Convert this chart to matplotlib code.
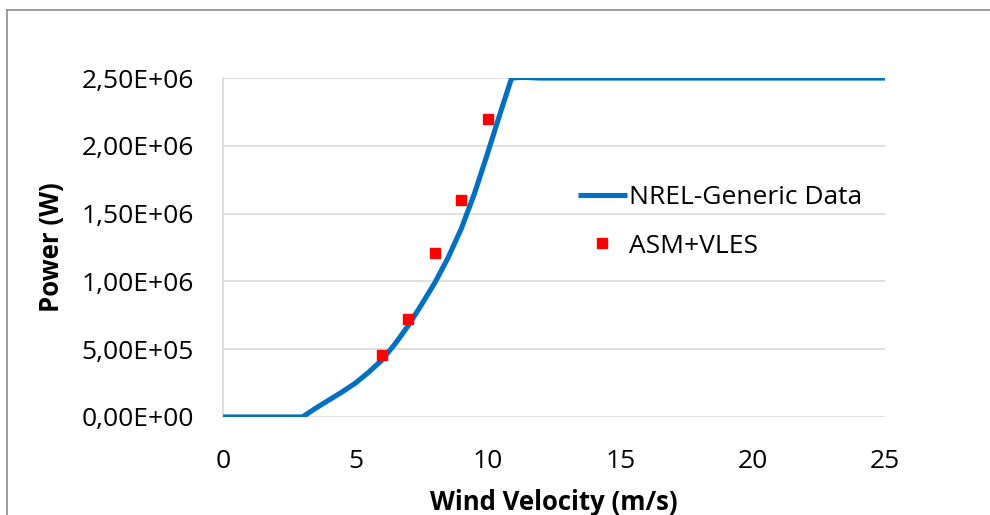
import numpy as np
import matplotlib
matplotlib.use('Agg')
import matplotlib.pyplot as plt
from matplotlib.ticker import FuncFormatter
from matplotlib.lines import Line2D

plt.rcParams['font.family'] = ['Open Sans', 'DejaVu Sans']

# NREL generic power curve
nrel_ws = [0, 3, 3.5, 4, 4.5, 5, 5.5, 6, 6.5, 7, 7.5, 8, 8.5, 9, 9.5, 10, 10.5, 10.9, 11.3, 12, 15, 20, 25]
nrel_power = [0, 0, 0.065e6, 0.125e6, 0.185e6, 0.25e6, 0.33e6, 0.42e6, 0.54e6, 0.675e6, 0.83e6, 0.99e6,
              1.175e6, 1.39e6, 1.65e6, 1.95e6, 2.26e6, 2.5e6, 2.505e6, 2.5e6, 2.5e6, 2.5e6, 2.5e6]

# ASM+VLES simulation points
asm_ws = [6, 7, 8, 9, 10]
asm_power = [0.46e6, 0.72e6, 1.21e6, 1.60e6, 2.20e6]

xticks = [0, 5, 10, 15, 20, 25]
yticks = [0, 0.5e6, 1.0e6, 1.5e6, 2.0e6, 2.5e6]

fig = plt.figure(figsize=(9.9, 5.15), dpi=100)
ax = fig.add_axes([0.2253, 0.1903, 0.6686, 0.6582])

grid_c = '#D9D9D9'
ax.plot(nrel_ws, nrel_power, color='#0070C0', lw=3.7, solid_capstyle='butt',
        solid_joinstyle='round', label='NREL-Generic Data', zorder=3)
ax.plot(asm_ws, asm_power, ls='none', marker='s', ms=7.5, color='#FF0000',
        mec='#FF0000', label='ASM+VLES', zorder=4)

ax.set_xlim(0, 25)
ax.set_ylim(0, 2.5e6)
ax.set_xticks(xticks)
ax.set_yticks(yticks)
ax.yaxis.set_major_formatter(FuncFormatter(lambda v, p: f'{v:.2E}'.replace('.', ',')))
ax.grid(axis='y', color=grid_c, lw=1.2)
ax.set_axisbelow(True)
for s in ['top', 'right', 'bottom']:
    ax.spines[s].set_visible(False)
ax.spines['left'].set_color(grid_c)
ax.spines['left'].set_linewidth(1.2)
ax.tick_params(length=0, labelsize=19, colors='#000000')
ax.tick_params(axis='y', pad=21)
ax.tick_params(axis='x', pad=23)

ax.set_ylabel('Power (W)', fontsize=18.5, fontweight='bold', labelpad=12)
ax.set_xlabel('Wind Velocity (m/s)', fontsize=18.5, fontweight='bold', labelpad=11)

leg = ax.legend(loc='upper left', bbox_to_anchor=(0.50, 0.755), frameon=False,
                fontsize=19, handlelength=1.85, handletextpad=0.08, labelspacing=0.9)

# outer chart frame (top and left edges visible)
fig.add_artist(Line2D([0.0066, 1.0], [0.9806, 0.9806], color='#8C8C8C', lw=1.2))
fig.add_artist(Line2D([0.0066, 0.0066], [0.0, 0.9806], color='#8C8C8C', lw=1.2))

fig.savefig('out.png', dpi=100)
